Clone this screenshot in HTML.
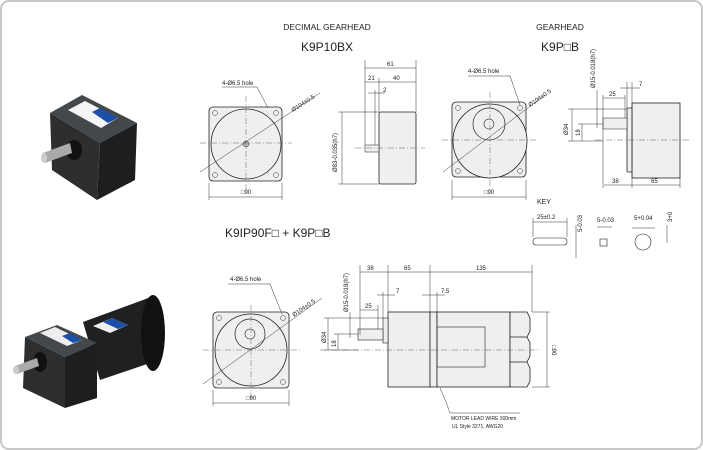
<!DOCTYPE html>
<html><head><meta charset="utf-8"><style>
body{margin:0;background:#fff}
svg{display:block}
text{font-family:"Liberation Sans",sans-serif;fill:#222}
.t{font-size:6px}
.d{stroke:#333;stroke-width:.5;fill:none}
.c{stroke:#666;stroke-width:.5;stroke-dasharray:6 2 1 2;fill:none}
.b{stroke:#222;stroke-width:.8;fill:#efefef}
</style></head><body>
<svg width="703" height="450" viewBox="0 0 703 450">
<rect x="1" y="1" width="701" height="448" rx="8" fill="#fff" stroke="#c8c8c8" stroke-width="2"/>

<!-- photos -->
<g>
<polygon points="50,113 82,95 137,123 100,143" fill="#45484b"/>
<polygon points="100,143 137,123 135,180 97,200" fill="#1c1e20"/>
<polygon points="50,113 100,143 97,200 52,170" fill="#2c2e30"/>
<polygon points="68,110 85,101 118,118 101,128" fill="#f4f4f4"/>
<polygon points="92,112 100,108 118,118 108,123" fill="#1b4fa8"/>
<ellipse cx="74" cy="150" rx="8" ry="10" fill="#111"/>
<polygon points="43,153 70,143 72,153 45,163" fill="#aaa"/>
<ellipse cx="44" cy="158" rx="3" ry="5" fill="#ccc"/>
</g>
<g>
<polygon points="83,322 143,300 153,296 153,370 150,363 100,380" fill="#1e2022"/>
<ellipse cx="153" cy="333" rx="12" ry="38" fill="#111"/>
<polygon points="93,326 112,318 128,325 110,333" fill="#eee"/>
<polygon points="103,322 112,318 128,325 118,329" fill="#1b4fa8"/>
<polygon points="25,337 57,325 97,343 65,357" fill="#45484b"/>
<polygon points="65,357 97,343 97,398 65,408" fill="#1c1e20"/>
<polygon points="25,337 65,357 65,408 23,388" fill="#2c2e30"/>
<polygon points="40,333 55,327 82,340 67,346" fill="#eee"/>
<polygon points="62,336 70,333 82,340 73,343" fill="#1b4fa8"/>
<ellipse cx="40" cy="362" rx="7" ry="10" fill="#111"/>
<polygon points="15,366 37,358 39,366 17,374" fill="#aaa"/>
<ellipse cx="16" cy="370" rx="3" ry="4" fill="#ccc"/>
</g>

<!-- titles -->
<text x="327" y="30" font-size="8.5" text-anchor="middle" fill="#444">DECIMAL GEARHEAD</text>
<text x="327" y="51" font-size="12" text-anchor="middle">K9P10BX</text>
<text x="560" y="30" font-size="8.5" text-anchor="middle" fill="#444">GEARHEAD</text>
<text x="560" y="51" font-size="12" text-anchor="middle">K9P□B</text>
<text x="225" y="237" font-size="12">K9IP90F□ + K9P□B</text>

<!-- top-left front -->
<rect x="209" y="107" width="73" height="74" rx="4" class="b"/>
<circle cx="246" cy="144" r="35" fill="#efefef" stroke="#222" stroke-width=".8"/>
<circle cx="246" cy="144" r="3" fill="#bbb" stroke="#222" stroke-width=".5"/>
<g fill="none" stroke="#333" stroke-width=".5"><circle cx="215" cy="113" r="2.5"/><circle cx="276" cy="113" r="2.5"/><circle cx="215" cy="175" r="2.5"/><circle cx="276" cy="175" r="2.5"/></g>
<line x1="200" y1="143" x2="292" y2="143" class="c"/><line x1="246" y1="96" x2="246" y2="190" class="c"/>
<line x1="200" y1="172" x2="320" y2="93" class="d"/>
<polyline points="222,87 257,87 268,108" class="d"/>
<text x="222" y="85" class="t">4-Ø6.5 hole</text>
<text x="293" y="112" class="t" transform="rotate(-33 293 112)">Ø104±0.5</text>
<line x1="209" y1="197" x2="282" y2="197" class="d"/><line x1="209" y1="183" x2="209" y2="200" class="d"/><line x1="282" y1="183" x2="282" y2="200" class="d"/>
<text x="246" y="194" class="t" text-anchor="middle">□90</text>

<!-- top-left side -->
<rect x="379" y="112" width="37" height="72" rx="2" class="b"/>
<rect x="365" y="145" width="14" height="7" fill="#efefef" stroke="#222" stroke-width=".5"/>
<line x1="355" y1="148" x2="425" y2="148" class="c"/>
<g class="d"><line x1="365" y1="60" x2="365" y2="145"/><line x1="416" y1="60" x2="416" y2="112"/><line x1="379" y1="78" x2="379" y2="112"/><line x1="375" y1="90" x2="375" y2="145"/>
<line x1="365" y1="68" x2="416" y2="68"/><line x1="365" y1="82" x2="416" y2="82"/><line x1="368" y1="93" x2="385" y2="93"/>
<line x1="342" y1="112" x2="342" y2="184"/><line x1="338" y1="112" x2="379" y2="112"/><line x1="338" y1="184" x2="379" y2="184"/></g>
<text x="387" y="66" class="t">61</text><text x="368" y="80" class="t">21</text><text x="393" y="80" class="t">40</text><text x="383" y="92" class="t">2</text>
<text x="337" y="172" class="t" transform="rotate(-90 337 172)">Ø83-0.035(h7)</text>

<!-- top-right front -->
<rect x="452" y="102" width="74" height="75" rx="4" class="b"/>
<circle cx="490" cy="141" r="37" fill="#efefef" stroke="#222" stroke-width=".8"/>
<circle cx="489" cy="124" r="16" fill="#efefef" stroke="#222" stroke-width=".7"/>
<circle cx="489" cy="124" r="5" fill="#efefef" stroke="#222" stroke-width=".6"/>
<g fill="none" stroke="#333" stroke-width=".5"><circle cx="458" cy="108" r="2.5"/><circle cx="520" cy="108" r="2.5"/><circle cx="458" cy="171" r="2.5"/><circle cx="520" cy="171" r="2.5"/></g>
<line x1="442" y1="140" x2="536" y2="140" class="c"/><line x1="490" y1="92" x2="490" y2="186" class="c"/>
<line x1="443" y1="172" x2="545" y2="95" class="d"/>
<polyline points="468,76 510,76 520,105" class="d"/>
<text x="468" y="73" class="t">4-Ø6.5 hole</text>
<text x="530" y="107" class="t" transform="rotate(-35 530 107)">Ø104±0.5</text>
<line x1="452" y1="197" x2="526" y2="197" class="d"/><line x1="452" y1="180" x2="452" y2="200" class="d"/><line x1="526" y1="180" x2="526" y2="200" class="d"/>
<text x="489" y="194" class="t" text-anchor="middle">□90</text>

<!-- top-right side -->
<rect x="632" y="103" width="48" height="75" class="b"/>
<rect x="627" y="108" width="5" height="64" rx="1" class="b"/>
<rect x="603" y="118" width="24" height="11" fill="#efefef" stroke="#222" stroke-width=".5"/>
<line x1="595" y1="140" x2="690" y2="140" class="c"/>
<g class="d"><line x1="568" y1="109" x2="627" y2="109"/><line x1="568" y1="141" x2="603" y2="141"/><line x1="572" y1="109" x2="572" y2="141"/>
<line x1="582" y1="124" x2="582" y2="141"/><line x1="578" y1="124" x2="603" y2="124"/>
<line x1="603" y1="98" x2="625" y2="98"/><line x1="603" y1="95" x2="603" y2="188"/><line x1="625" y1="95" x2="625" y2="118"/>
<line x1="620" y1="88" x2="640" y2="88"/><line x1="627" y1="82" x2="627" y2="108"/><line x1="632" y1="82" x2="632" y2="188"/>
<line x1="604" y1="185" x2="680" y2="185"/><line x1="680" y1="178" x2="680" y2="188"/>
<line x1="597" y1="90" x2="597" y2="128"/></g>
<text x="568" y="135" class="t" transform="rotate(-90 568 135)">Ø34</text>
<text x="580" y="136" class="t" transform="rotate(-90 580 136)">18</text>
<text x="609" y="96" class="t">25</text><text x="639" y="86" class="t">7</text>
<text x="612" y="183" class="t">38</text><text x="651" y="183" class="t">65</text>
<text x="595" y="88" class="t" transform="rotate(-90 595 88)">Ø15-0.018(h7)</text>

<!-- key -->
<text x="537" y="204" font-size="7" font-family="Liberation Serif" fill="#222">KEY</text>
<g class="d"><line x1="533" y1="222" x2="567" y2="222"/><line x1="533" y1="218" x2="533" y2="237"/><line x1="567" y1="218" x2="567" y2="237"/>
<line x1="576" y1="225" x2="576" y2="258"/><line x1="597" y1="227" x2="612" y2="227"/><line x1="632" y1="228" x2="655" y2="228"/><line x1="667" y1="225" x2="667" y2="243"/></g>
<rect x="533" y="238" width="34" height="7" rx="3" fill="#fff" stroke="#222" stroke-width=".6"/>
<rect x="600" y="239" width="7" height="7" fill="#fff" stroke="#222" stroke-width=".6"/>
<circle cx="643" cy="242" r="8" fill="#fff" stroke="#222" stroke-width=".6"/>
<text x="537" y="219" class="t">25±0.2</text><text x="597" y="222" class="t">5-0.03</text><text x="634" y="220" class="t">5+0.04</text>
<text x="582" y="232" class="t" transform="rotate(-90 582 232)">5-0.03</text>
<text x="672" y="222" class="t" transform="rotate(-90 672 222)">3+0</text>

<!-- bottom front -->
<rect x="213" y="312" width="76" height="76" rx="4" class="b"/>
<circle cx="251" cy="350" r="36" fill="#efefef" stroke="#222" stroke-width=".8"/>
<circle cx="250" cy="334" r="15" fill="#efefef" stroke="#222" stroke-width=".7"/>
<circle cx="250" cy="334" r="5" fill="#efefef" stroke="#222" stroke-width=".6"/>
<g fill="none" stroke="#333" stroke-width=".5"><circle cx="219" cy="318" r="2.5"/><circle cx="283" cy="318" r="2.5"/><circle cx="219" cy="382" r="2.5"/><circle cx="283" cy="382" r="2.5"/></g>
<line x1="203" y1="350" x2="300" y2="350" class="c"/><line x1="251" y1="305" x2="251" y2="398" class="c"/>
<line x1="203" y1="384" x2="322" y2="298" class="d"/>
<polyline points="228,284 270,284 282,314" class="d"/>
<text x="230" y="281" class="t">4-Ø6.5 hole</text>
<text x="294" y="317" class="t" transform="rotate(-35 294 317)">Ø104±0.5</text>
<line x1="213" y1="403" x2="289" y2="403" class="d"/><line x1="213" y1="390" x2="213" y2="406" class="d"/><line x1="289" y1="390" x2="289" y2="406" class="d"/>
<text x="251" y="400" class="t" text-anchor="middle">□90</text>

<!-- bottom side -->
<rect x="388" y="312" width="42" height="75" class="b"/>
<rect x="430" y="312" width="7" height="75" class="b"/>
<rect x="437" y="312" width="73" height="75" class="b"/>
<rect x="437" y="327" width="48" height="40" fill="none" stroke="#222" stroke-width=".6"/>
<path d="M510,312 H527 L530,318 V331 L527,337 H510 Z M510,337 H527 L530,343 V356 L527,362 H510 Z M510,362 H527 L530,368 V381 L527,387 H510 Z" fill="#efefef" stroke="#222" stroke-width=".8"/>
<rect x="383" y="318" width="5" height="25" fill="#efefef" stroke="#222" stroke-width=".6"/>
<rect x="358" y="329" width="25" height="11" fill="#efefef" stroke="#222" stroke-width=".6"/>
<line x1="320" y1="350" x2="538" y2="350" class="c"/>
<g class="d"><line x1="360" y1="272" x2="532" y2="272"/><line x1="360" y1="265" x2="360" y2="335"/><line x1="388" y1="265" x2="388" y2="312"/><line x1="430" y1="265" x2="430" y2="312"/><line x1="532" y1="265" x2="532" y2="312"/>
<line x1="377" y1="295" x2="395" y2="295"/><line x1="383" y1="292" x2="383" y2="318"/><line x1="422" y1="295" x2="445" y2="295"/><line x1="437" y1="292" x2="437" y2="312"/>
<line x1="360" y1="310" x2="378" y2="310"/><line x1="378" y1="305" x2="378" y2="329"/>
<line x1="324" y1="318" x2="383" y2="318"/><line x1="324" y1="350" x2="358" y2="350"/><line x1="328" y1="318" x2="328" y2="350"/>
<line x1="334" y1="334" x2="358" y2="334"/><line x1="338" y1="334" x2="338" y2="350"/><line x1="350" y1="312" x2="350" y2="338"/>
<line x1="547" y1="312" x2="547" y2="387"/><line x1="532" y1="312" x2="550" y2="312"/><line x1="532" y1="387" x2="550" y2="387"/>
<polyline points="440,388 446,402 450,413 520,413"/></g>
<text x="367" y="270" class="t">38</text><text x="404" y="270" class="t">65</text><text x="476" y="270" class="t">135</text>
<text x="396" y="293" class="t">7</text><text x="441" y="293" class="t">7.5</text><text x="365" y="308" class="t">25</text>
<text x="326" y="343" class="t" transform="rotate(-90 326 343)">Ø34</text>
<text x="336" y="347" class="t" transform="rotate(-90 336 347)">18</text>
<text x="348" y="312" class="t" transform="rotate(-90 348 312)">Ø15-0.018(h7)</text>
<text x="552" y="345" class="t" transform="rotate(90 552 345)">□90</text>
<text x="451" y="420" font-size="5" fill="#222">MOTOR LEAD WIRE 300mm</text>
<text x="452" y="428" font-size="5" fill="#222">UL Style 3271, AWG20</text>
</svg>
</body></html>
